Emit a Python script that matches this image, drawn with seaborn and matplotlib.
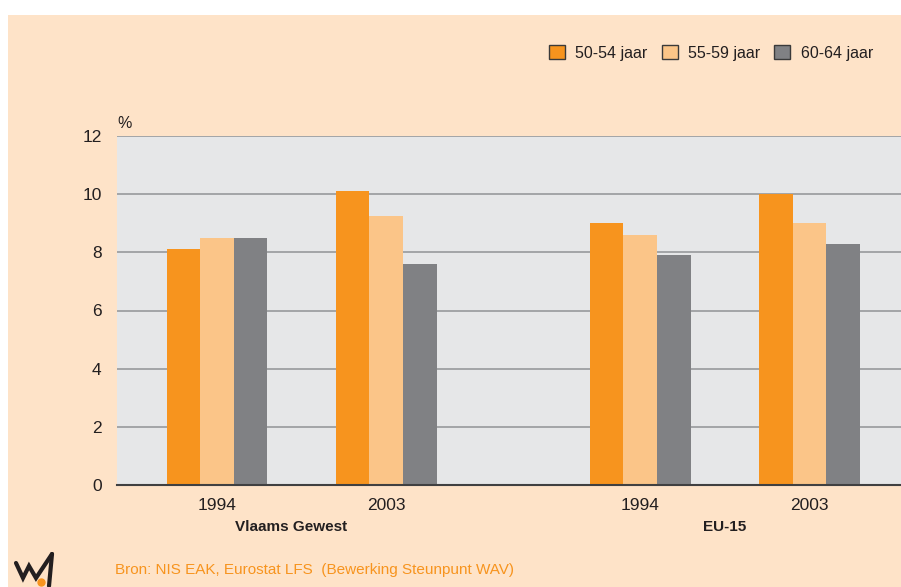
import pandas as pd
import matplotlib.pyplot as plt
import seaborn as sns
from matplotlib.patches import Patch, Rectangle
from matplotlib.lines import Line2D
import matplotlib.transforms as mtrans

sns.set_style('white')
plt.rcParams['font.family'] = ['Liberation Sans', 'DejaVu Sans']

# data
regions = ['Vlaams Gewest', 'EU-15']
years = ['1994', '2003']
age_groups = ['50-54 jaar', '55-59 jaar', '60-64 jaar']
vg_1994 = [8.1, 8.5, 8.5]
vg_2003 = [10.1, 9.25, 7.6]
eu_1994 = [9.0, 8.6, 7.9]
eu_2003 = [10.0, 9.0, 8.3]

values = {('Vlaams Gewest', '1994'): vg_1994, ('Vlaams Gewest', '2003'): vg_2003,
          ('EU-15', '1994'): eu_1994, ('EU-15', '2003'): eu_2003}

# layout: extra gap between the two regions
region_gap = 1.5

rows = []
for ri, reg in enumerate(regions):
    for yi, yr in enumerate(years):
        for ag, v in zip(age_groups, values[(reg, yr)]):
            rows.append({'pos': ri * region_gap + ri + yi, 'year': yr, 'region': reg,
                         'age': ag, 'pct': v})
df = pd.DataFrame(rows)

palette = ['#F7941E', '#FBC588', '#808184']
peach = '#FEE3C8'
dark = '#231F20'

fig = plt.figure(figsize=(9.01, 5.87), dpi=100, facecolor='white')
fig.patches.append(Rectangle((8 / 901, 0), 1, 1 - 15 / 587, transform=fig.transFigure,
                             facecolor=peach, edgecolor='none', zorder=-10))
ax = fig.add_axes([117 / 901, 1 - 485 / 587, 1 - 117 / 901, (485 - 136) / 587])
ax.set_facecolor('#E6E7E8')

sns.barplot(data=df, x='pos', y='pct', hue='age', hue_order=age_groups, palette=palette,
            native_scale=True, width=0.595, saturation=1, linewidth=0, legend=False, ax=ax)

ax.set_ylim(0, 12)
ax.set_xlim(-0.59, 4.04)
ax.set_yticks(range(0, 13, 2))
ax.set_yticklabels([str(t) for t in range(0, 13, 2)], fontsize=12.5, color=dark)
group_pos = sorted(df['pos'].unique())
ax.set_xticks(group_pos)
ax.set_xticklabels(years * len(regions), fontsize=12.5, color=dark)
ax.tick_params(axis='both', length=0)
ax.tick_params(axis='y', pad=11)
ax.tick_params(axis='x', pad=9)
ax.set_xlabel('')
ax.set_ylabel('')

ax.set_axisbelow(True)
ax.yaxis.grid(True, color='#9D9FA2', linewidth=1.3)
ax.xaxis.grid(False)
for s in ['top', 'right', 'left']:
    ax.spines[s].set_visible(False)
ax.spines['bottom'].set_color('#404041')
ax.spines['bottom'].set_linewidth(1.5)

# region labels under the years
trans = mtrans.blended_transform_factory(ax.transData, fig.transFigure)
for ri, reg in enumerate(regions):
    centre = (group_pos[2 * ri] + group_pos[2 * ri + 1]) / 2
    if ri == 0:
        centre -= 0.06
    ax.text(centre, 1 - 527 / 587, reg, transform=trans, ha='center', va='center',
            fontsize=11, fontweight='bold', color=dark)

fig.text(117 / 901, 1 - 124 / 587, '%', ha='left', va='center', fontsize=11.5, color=dark)

handles = [Patch(facecolor=c, edgecolor='#3a3a3a', linewidth=1) for c in palette]
fig.legend(handles, age_groups, loc='center right', bbox_to_anchor=(873 / 901, 1 - 53 / 587),
           bbox_transform=fig.transFigure, ncol=3, frameon=False, fontsize=11.5,
           handlelength=1.0, handleheight=1.0, handletextpad=0.65, columnspacing=0.9,
           borderpad=0, borderaxespad=0, labelcolor=dark)

fig.text(115 / 901, 1 - 570 / 587, 'Bron: NIS EAK, Eurostat LFS  (Bewerking Steunpunt WAV)',
         ha='left', va='center', fontsize=11, color='#F7941E')

# logo
lx = [16, 23, 29, 36, 52]
ly = [563, 578, 566, 578, 554]
fig.lines.append(Line2D([x / 901 for x in lx], [1 - y / 587 for y in ly], transform=fig.transFigure,
                        color=dark, linewidth=3, solid_joinstyle='miter'))
fig.lines.append(Line2D([52 / 901, 49 / 901], [1 - 554 / 587, 1 - 586 / 587], transform=fig.transFigure,
                        color=dark, linewidth=3))
fig.lines.append(Line2D([41 / 901], [1 - 582 / 587], transform=fig.transFigure, marker='o',
                        markersize=5, color='#F7941E', linestyle='none'))

fig.savefig('out.png', dpi=100, facecolor=fig.get_facecolor())
